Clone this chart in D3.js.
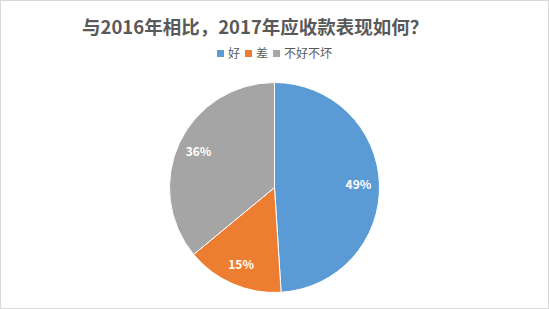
<!DOCTYPE html>
<html>
<head>
<meta charset="utf-8">
<script src="https://cdn.jsdelivr.net/npm/d3@7.9.0/dist/d3.min.js"></script>
<style>
  body { margin: 0; background: #fff; }
  svg { display: block; font-family: "Noto Sans CJK SC", "Microsoft YaHei", sans-serif; }
</style>
</head>
<body>
<svg id="chart" width="549" height="309"></svg>
<script>
// Chart data
const title = '与2016年相比，2017年应收款表现如何？';
const categories = ['好', '差', '不好不坏'];
const values = [49, 15, 36];
const colors = ['#5B9BD5', '#ED7D31', '#A5A5A5'];

const width = 549, height = 309;
const svg = d3.select('#chart');

// Outer border of the chart area
svg.append('rect')
  .attr('x', 0.5).attr('y', 0.5)
  .attr('width', width - 1).attr('height', height - 1)
  .attr('fill', '#fff')
  .attr('stroke', '#D9D9D9');

// Title
svg.append('text')
  .attr('x', 82)
  .attr('y', 34)
  .attr('font-size', 18.5)
  .attr('font-weight', 'bold')
  .attr('fill', '#595959')
  .text(title);

// Legend
const legend = svg.append('g').attr('transform', 'translate(217,54)');
let lx = 0;
categories.forEach((c, i) => {
  const g = legend.append('g').attr('transform', `translate(${lx},0)`);
  g.append('rect')
    .attr('x', 0).attr('y', -4)
    .attr('width', 7).attr('height', 7)
    .attr('fill', colors[i]);
  const t = g.append('text')
    .attr('x', 11)
    .attr('y', 0)
    .attr('dy', '0.35em')
    .attr('font-size', 12)
    .attr('fill', '#595959')
    .text(c);
  lx += 11 + t.node().getComputedTextLength() + 5;
});

// Pie
const cx = 274.5, cy = 187.5, r = 105;
const pie = d3.pie().sort(null).value(d => d);
const arc = d3.arc().innerRadius(0).outerRadius(r);
const labelArc = d3.arc().innerRadius(r * 0.8).outerRadius(r * 0.8);

const g = svg.append('g').attr('transform', `translate(${cx},${cy})`);
const arcs = pie(values);

g.selectAll('path')
  .data(arcs)
  .join('path')
  .attr('d', arc)
  .attr('fill', (d, i) => colors[i])
  .attr('stroke', '#fff')
  .attr('stroke-width', 1);

g.selectAll('text')
  .data(arcs)
  .join('text')
  .attr('transform', d => `translate(${labelArc.centroid(d)})`)
  .attr('text-anchor', 'middle')
  .attr('dy', '0.35em')
  .attr('font-size', 12)
  .attr('font-weight', 'bold')
  .attr('fill', '#fff')
  .text(d => d.data + '%');
</script>
</body>
</html>
